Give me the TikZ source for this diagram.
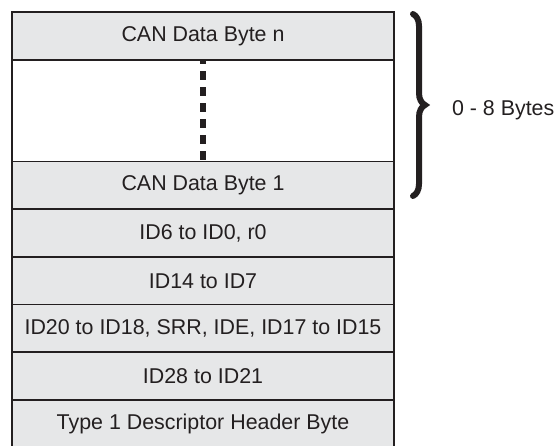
\documentclass[tikz,border=0pt]{standalone}
\usepackage{fontspec}
\setmainfont{Liberation Sans}
\usepackage{tikz}
\usetikzlibrary{positioning, decorations.pathreplacing}
\definecolor{rowgray}{HTML}{E6E7E8}
\definecolor{inkgray}{HTML}{231F20}
\tikzset{
    byte_row/.style={
        rectangle, draw=inkgray, line width=0.8pt, fill=rowgray,
        minimum width=191pt, minimum height=24pt, inner sep=0pt,
        text=inkgray, font=\fontsize{10.7}{13}\selectfont
    },
    byte_gap/.style={
        rectangle, draw=inkgray, line width=0.8pt, fill=white,
        minimum width=191pt, minimum height=51pt, inner sep=0pt
    },
    dots_line/.style={
        draw=inkgray, line width=3pt, dash pattern=on 4.5pt off 3.5pt, dash phase=2pt
    },
    brace_line/.style={
        draw=inkgray, line width=3pt, line cap=round,
        decorate, decoration={brace, amplitude=6pt}
    },
    lbl/.style={
        text=inkgray, font=\fontsize{10.7}{13}\selectfont, anchor=west
    }
}

\begin{document}
\begin{tikzpicture}[x=0.5pt, y=-0.5pt]
\useasboundingbox (0,0) rectangle (556,445);
\node[byte_row] (byten) at (203, 36) {CAN Data Byte n};
\node[byte_gap] (gap) at (203, 111) {};
\node[byte_row] (byte1) at (203, 185.5) {CAN Data Byte 1};
\node[byte_row] (idlow) at (203, 233) {ID6 to ID0, r0};
\node[byte_row] (idmid) at (203, 281) {ID14 to ID7};
\node[byte_row] (idsrr) at (203, 328.5) {ID20 to ID18, SRR, IDE, ID17 to ID15};
\node[byte_row] (idhigh) at (203, 376) {ID28 to ID21};
\node[byte_row] (header) at (203, 424) {Type 1 Descriptor Header Byte};

\draw[dots_line] (gap.north) -- (gap.south);

\coordinate (brtop) at (413, 14);
\coordinate (brbot) at (413, 196);
\draw[brace_line] (brtop) -- (brbot);
\node[lbl] (count) at (445, 110) {0 - 8 Bytes};
\end{tikzpicture}
\end{document}
